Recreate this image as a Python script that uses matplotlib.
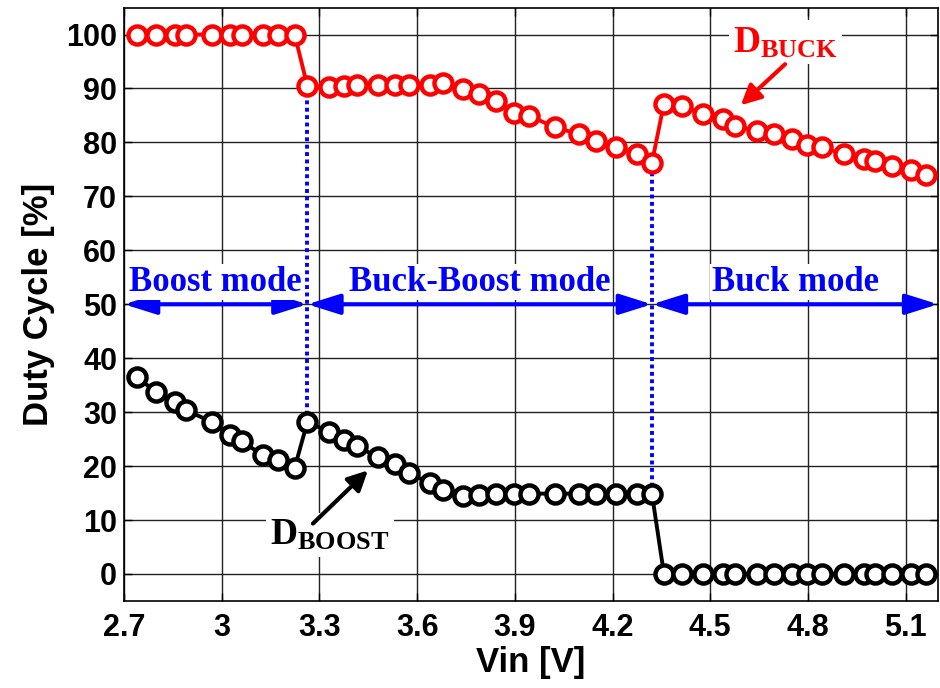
import matplotlib
matplotlib.use("Agg")
import matplotlib.pyplot as plt

# ---------------- data ----------------
vin = [2.739, 2.797, 2.856, 2.889, 2.969, 3.025, 3.061, 3.127, 3.173, 3.224,
       3.263, 3.330, 3.376, 3.415, 3.481, 3.532, 3.576, 3.640, 3.679, 3.742,
       3.791, 3.843, 3.896, 3.945, 4.024, 4.098, 4.150, 4.211, 4.275, 4.321,
       4.358, 4.413, 4.479, 4.540, 4.577, 4.643, 4.696, 4.751, 4.797, 4.843,
       4.911, 4.971, 5.006, 5.058, 5.116, 5.163]

d_buck = [100, 100, 100, 100, 100, 100, 100, 100, 100, 100,
          90.4, 90.3, 90.5, 90.7, 90.7, 90.7, 90.7, 90.7, 91.1, 89.9,
          88.9, 87.7, 85.5, 84.9, 82.8, 81.5, 80.2, 79.1, 77.8, 76.2,
          87.2, 86.7, 85.2, 84.3, 83.0, 82.2, 81.5, 80.7, 79.6, 79.1,
          77.8, 77.0, 76.5, 75.6, 74.9, 74.0]

d_boost = [36.5, 33.8, 31.9, 30.4, 28.2, 25.7, 24.6, 22.0, 21.1, 19.7,
           28.2, 26.3, 24.8, 23.7, 21.6, 20.3, 18.7, 16.8, 15.5, 14.4,
           14.7, 14.9, 14.9, 14.9, 14.9, 14.9, 14.9, 14.9, 14.9, 14.9,
           0, 0, 0, 0, 0, 0, 0, 0, 0, 0,
           0, 0, 0, 0, 0, 0]

mode_labels = ["Boost mode", "Buck-Boost mode", "Buck mode"]
mode_bounds = [2.7, 3.263, 4.321, 5.2]   # Vin boundaries of the modes
mode_level = 50

x_ticks = [2.7, 3.0, 3.3, 3.6, 3.9, 4.2, 4.5, 4.8, 5.1]
x_ticklabels = ["2.7", "3", "3.3", "3.6", "3.9", "4.2", "4.5", "4.8", "5.1"]
y_ticks = [0, 10, 20, 30, 40, 50, 60, 70, 80, 90, 100]

# ---------------- style ----------------
plt.rcParams['mathtext.fontset'] = 'custom'
plt.rcParams['mathtext.rm'] = 'Liberation Serif:bold'
plt.rcParams['mathtext.bf'] = 'Liberation Serif:bold'
plt.rcParams['mathtext.it'] = 'Liberation Serif:bold'

sans = ['Liberation Sans', 'DejaVu Sans']
serif = ['Liberation Serif', 'DejaVu Serif']

fig = plt.figure(figsize=(9.4, 6.88), dpi=100)
ax = fig.add_axes([0.132, 0.1265, 0.866, 0.8625])

ax.set_xlim(2.7, 5.2)
ax.set_ylim(-5, 105)

ax.grid(True, color='#222222', linewidth=1.0, zorder=0)
ax.set_axisbelow(True)

# vertical dotted mode boundaries
for b in mode_bounds[1:-1]:
    i = vin.index(b)
    ax.plot([b, b], [d_boost[i], d_buck[i]], color='blue', linestyle=(0, (1, 0.9)),
            linewidth=2.8, zorder=2)

# series
ax.plot(vin, d_buck, color='red', linewidth=2.8, marker='o', markersize=13,
        markerfacecolor='white', markeredgecolor='red', markeredgewidth=3.2, zorder=4)
ax.plot(vin, d_boost, color='black', linewidth=2.8, marker='o', markersize=13,
        markerfacecolor='white', markeredgecolor='black', markeredgewidth=3.2, zorder=4)

# mode arrows and labels
for k, lab in enumerate(mode_labels):
    x0, x1 = mode_bounds[k], mode_bounds[k + 1]
    ax.annotate('', xy=(x1, mode_level), xytext=(x0, mode_level),
                arrowprops=dict(arrowstyle='<|-|>,head_length=0.7,head_width=0.22',
                                color='blue', lw=3, mutation_scale=28,
                                shrinkA=0, shrinkB=0),
                zorder=3, annotation_clip=False)
    ax.text((x0 + x1) / 2, 52.5, lab, family=serif, fontweight='bold',
            fontsize=25, color='blue', ha='center', va='baseline', zorder=3,
            bbox=dict(facecolor='white', edgecolor='none', pad=1))

# series annotations
ax.text(4.57, 96.7, r'$\mathrm{D}_{\mathrm{BUCK}}$', color='red', fontsize=27,
        ha='left', va='baseline', zorder=5,
        bbox=dict(facecolor='white', edgecolor='none', pad=3))
ax.annotate('', xy=(4.594, 86.9), xytext=(4.73, 94.5),
            arrowprops=dict(arrowstyle='-|>,head_length=0.6,head_width=0.3',
                            color='red', lw=3, mutation_scale=20,
                            shrinkA=0, shrinkB=0), zorder=5)
ax.text(3.148, 5.4, r'$\mathrm{D}_{\mathrm{BOOST}}$', color='black', fontsize=27,
        ha='left', va='baseline', zorder=5,
        bbox=dict(facecolor='white', edgecolor='none', pad=3))
ax.annotate('', xy=(3.449, 19.2), xytext=(3.28, 9.35),
            arrowprops=dict(arrowstyle='-|>,head_length=0.6,head_width=0.3',
                            color='black', lw=3, mutation_scale=20,
                            shrinkA=0, shrinkB=0), zorder=5)

# axes
ax.set_xticks(x_ticks)
ax.set_xticklabels(x_ticklabels)
ax.set_yticks(y_ticks)
ax.tick_params(direction='in', length=6, width=1, top=True, right=True)
ax.tick_params(axis='y', pad=5)
ax.tick_params(axis='x', pad=9)
for lbl in ax.get_xticklabels() + ax.get_yticklabels():
    lbl.set_fontfamily(sans)
    lbl.set_fontweight('bold')
    lbl.set_fontsize(22)
for s in ax.spines.values():
    s.set_linewidth(1.2)

ax.set_xlabel('Vin [V]', family=sans, fontweight='bold', fontsize=25, labelpad=2)
ax.set_ylabel('Duty Cycle [%]', family=sans, fontweight='bold', fontsize=25, labelpad=8)

fig.savefig('out.png', dpi=100)
